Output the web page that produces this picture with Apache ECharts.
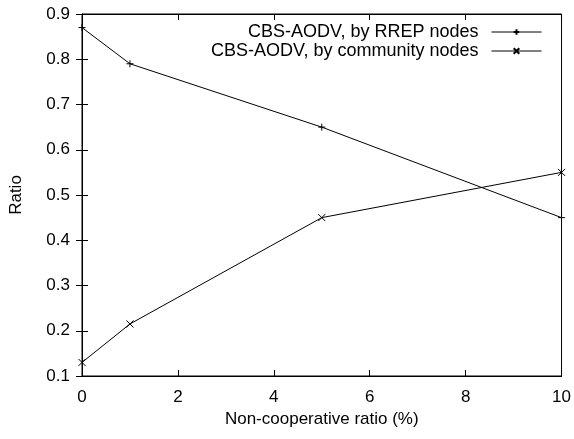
<!DOCTYPE html>
<html>
<head>
<meta charset="utf-8">
<script src="https://cdn.jsdelivr.net/npm/echarts@6/dist/echarts.min.js"></script>
<style>
html, body { margin: 0; padding: 0; background: #fff; }
#main { width: 574px; height: 439px; }
</style>
</head>
<body>
<div id="main"></div>
<script>
// 数据
var xRatio = [0, 1, 5, 10];
var rrepNodes = [0.87, 0.79, 0.65, 0.45];
var communityNodes = [0.13, 0.215, 0.45, 0.55];
var seriesNames = ['CBS-AODV, by RREP nodes', 'CBS-AODV, by community nodes'];

var plusSymbol = 'path://M0,5L10,5M5,0L5,10';
var crossSymbol = 'path://M0,0L10,10M0,10L10,0';

function pairs(xs, ys) {
	return xs.map(function (x, i) { return [x, ys[i]]; });
}

var font = 'Liberation Sans, Arial, sans-serif';
var fs = 17;

var chart = echarts.init(document.getElementById('main'));

var option = {
	animation: false,
	backgroundColor: '#fff',
	//网格
	grid: {
		left: 81,
		right: 9,
		top: 14,
		bottom: 63,
		show: true,
		borderColor: '#000',
		borderWidth: 1
	},
	//图例
	legend: {
		orient: 'vertical',
		right: 27,
		top: 18,
		align: 'right',
		itemWidth: 50,
		itemHeight: 7,
		itemGap: 1,
		lineStyle: { width: 1 },
		textStyle: {
			color: '#000',
			fontSize: 18,
			fontFamily: font,
			padding: [0, 8, 0, 0]
		},
		data: seriesNames
	},
	//x轴
	xAxis: [
		{
			type: 'value',
			min: 0,
			max: 10,
			interval: 2,
			name: 'Non-cooperative ratio (%)',
			nameLocation: 'middle',
			nameGap: 33,
			nameTextStyle: { color: '#000', fontSize: fs, fontFamily: font },
			splitLine: { show: false },
			axisLine: { lineStyle: { color: '#000' } },
			axisTick: { inside: true, length: 6, lineStyle: { color: '#000' } },
			axisLabel: { color: '#000', fontSize: fs, fontFamily: font, margin: 13 }
		},
		{
			type: 'value',
			position: 'top',
			min: 0,
			max: 10,
			interval: 2,
			splitLine: { show: false },
			axisLine: { lineStyle: { color: '#000' } },
			axisTick: { inside: true, length: 6, lineStyle: { color: '#000' } },
			axisLabel: { show: false }
		}
	],
	//y轴
	yAxis: [
		{
			type: 'value',
			min: 0.1,
			max: 0.9,
			interval: 0.1,
			name: 'Ratio',
			nameLocation: 'middle',
			nameGap: 57,
			nameRotate: 90,
			nameTextStyle: { color: '#000', fontSize: fs, fontFamily: font },
			splitLine: { show: false },
			axisLine: { show: true, lineStyle: { color: '#000' } },
			axisTick: { show: true, inside: true, length: 6, lineStyle: { color: '#000' } },
			axisLabel: {
				color: '#000', fontSize: fs, fontFamily: font, margin: 12,
				formatter: function (v) { return v.toFixed(1); }
			}
		},
		{
			type: 'value',
			position: 'right',
			min: 0.1,
			max: 0.9,
			interval: 0.1,
			splitLine: { show: false },
			axisLine: { show: true, lineStyle: { color: '#000' } },
			axisTick: { show: true, inside: true, length: 6, lineStyle: { color: '#000' } },
			axisLabel: { show: false }
		}
	],
	//系列列表
	series: [
		{
			name: seriesNames[0],
			type: 'line',
			data: pairs(xRatio, rrepNodes),
			symbol: plusSymbol,
			symbolSize: 7,
			lineStyle: { color: '#000', width: 1 },
			itemStyle: { color: 'none', borderColor: '#000', borderWidth: 1 }
		},
		{
			name: seriesNames[1],
			type: 'line',
			data: pairs(xRatio, communityNodes),
			symbol: crossSymbol,
			symbolSize: 7,
			lineStyle: { color: '#000', width: 1 },
			itemStyle: { color: 'none', borderColor: '#000', borderWidth: 1 }
		}
	]
};

chart.setOption(option);
</script>
</body>
</html>
